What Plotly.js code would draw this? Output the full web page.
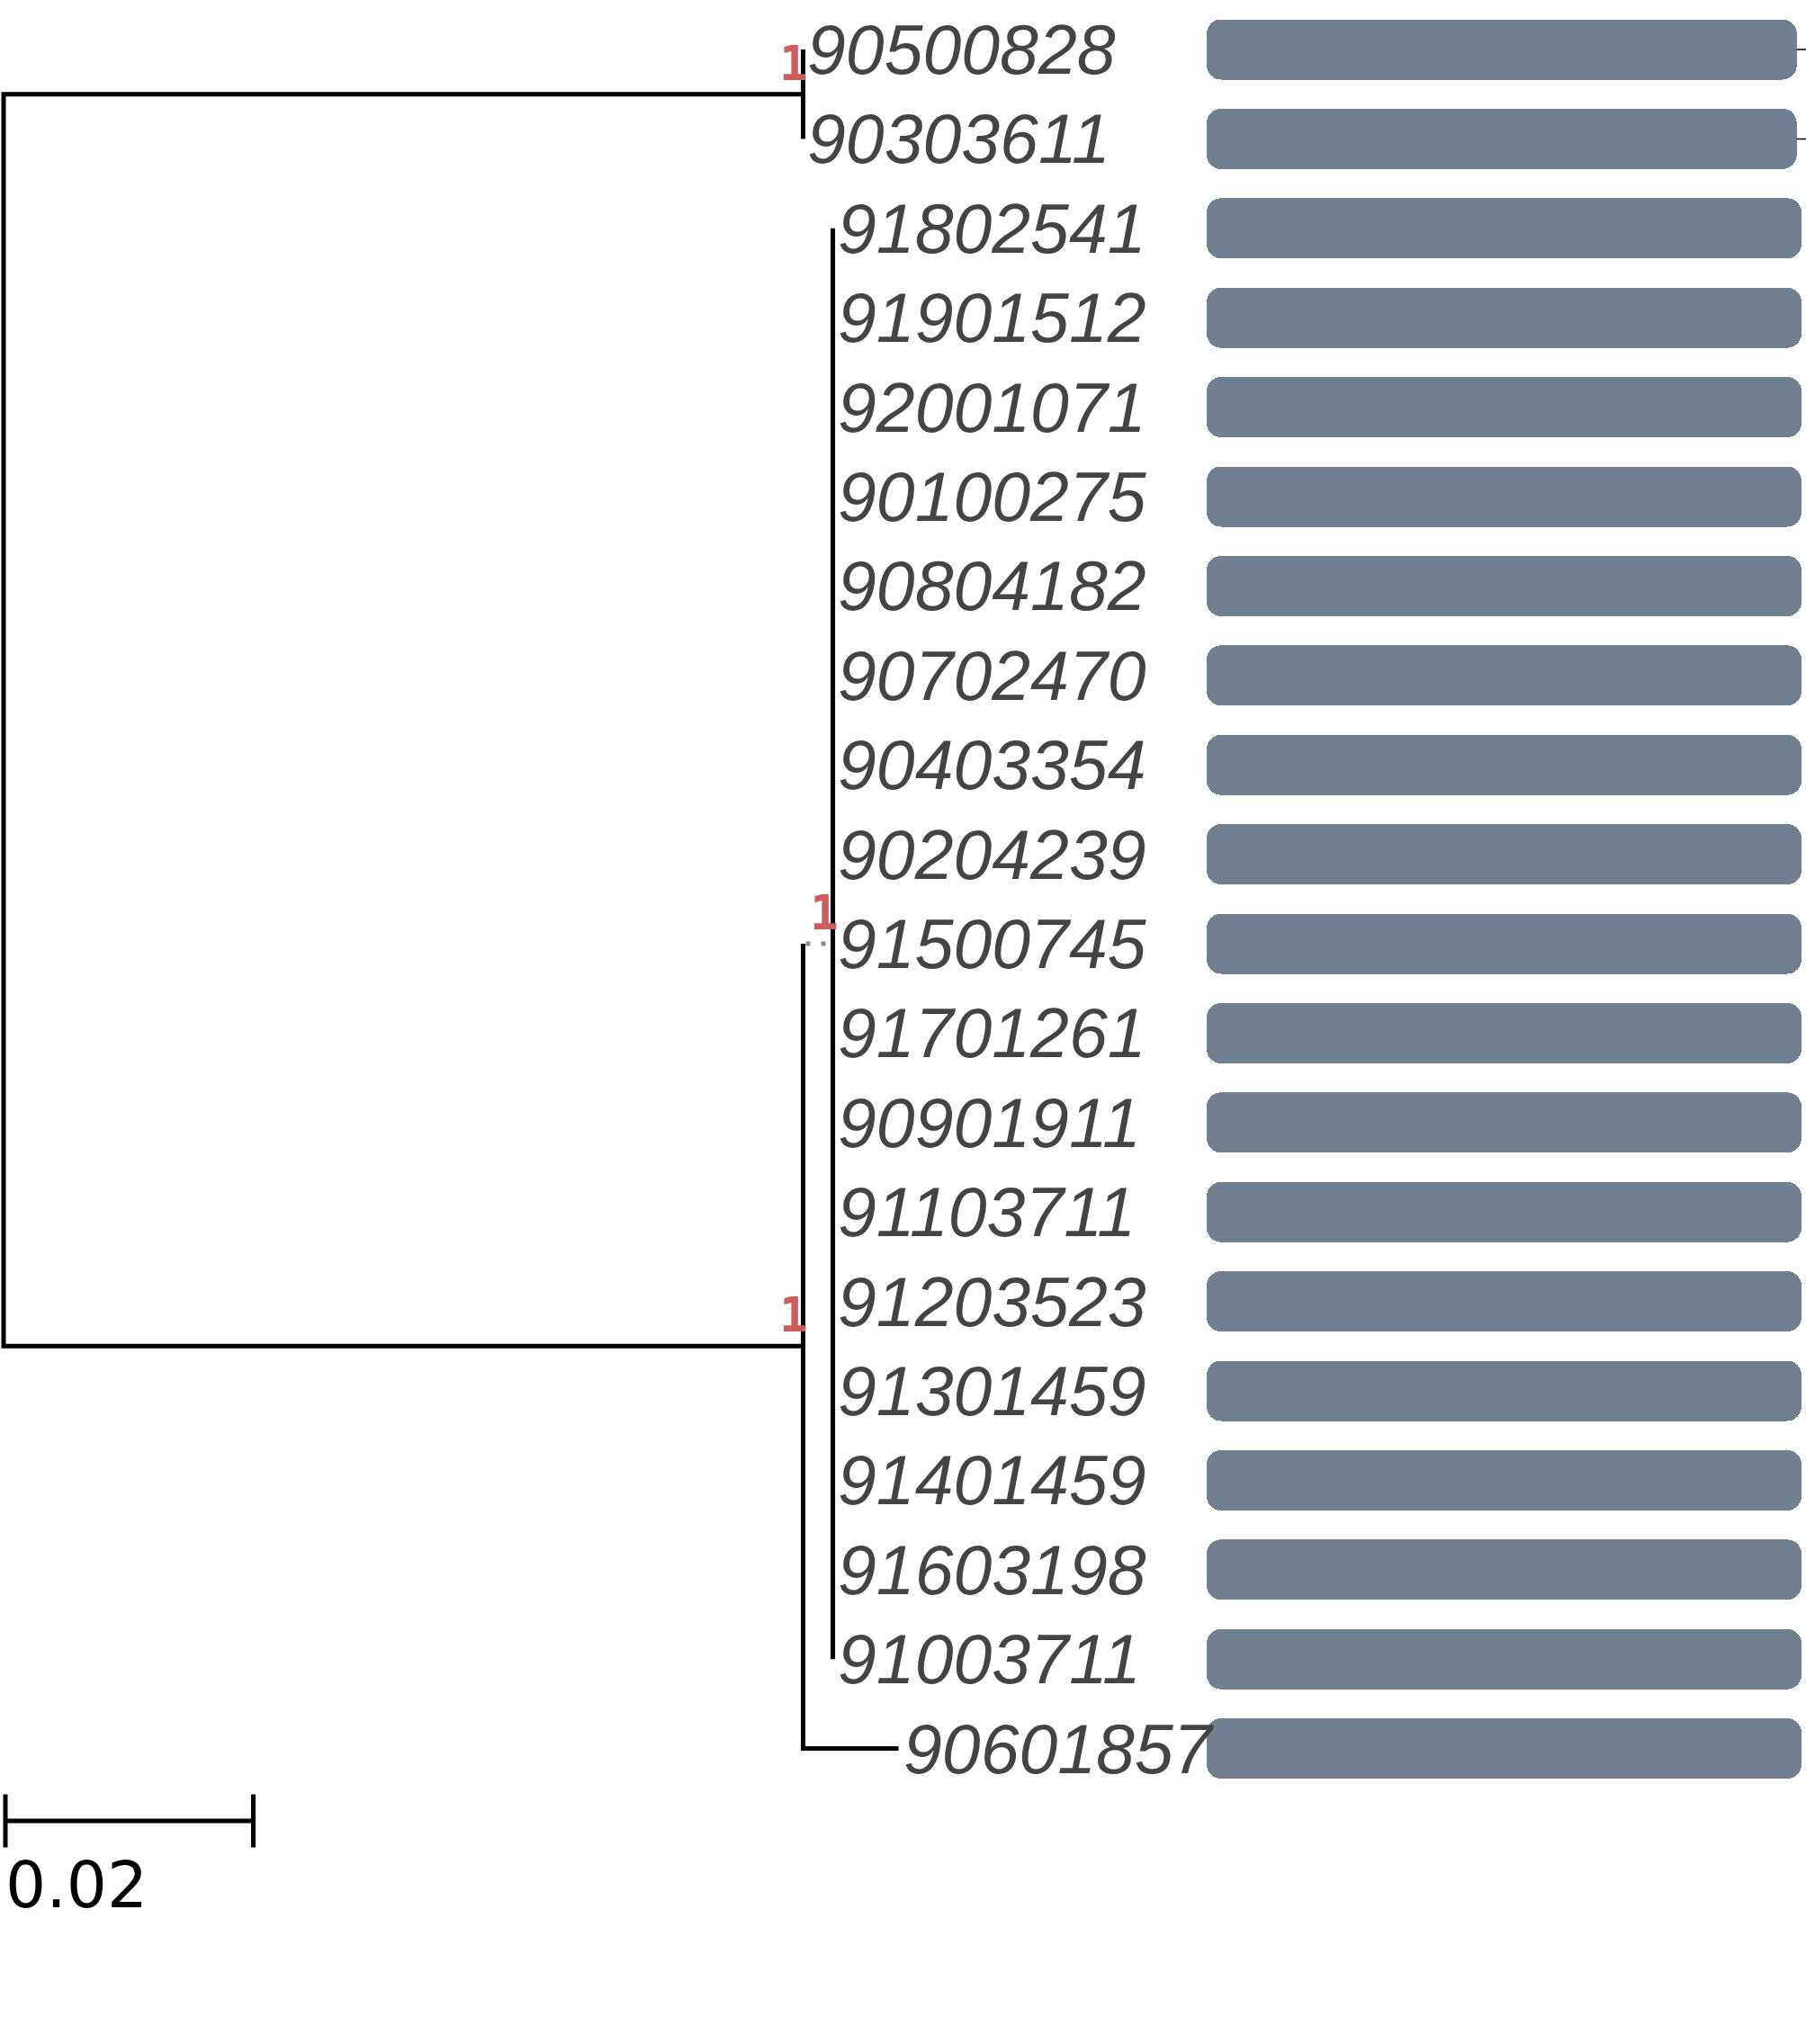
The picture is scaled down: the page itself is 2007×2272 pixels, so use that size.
<!DOCTYPE html>
<html><head><meta charset="utf-8">
<script src="https://cdn.plot.ly/plotly-3.0.1.min.js"></script>
<style>html,body{margin:0;padding:0;background:#fff;} #chart{width:2007px;height:2272px;}</style>
</head><body><div id="chart"></div>
<script>
// ---------- data ----------
const tipLabels = ['90500828','90303611','91802541','91901512','92001071','90100275','90804182',
  '90702470','90403354','90204239','91500745','91701261','90901911','91103711','91203523',
  '91301459','91401459','91603198','91003711','90601857'];
const tipParent = ['cladeTop','cladeTop',
  'cladeBig','cladeBig','cladeBig','cladeBig','cladeBig','cladeBig','cladeBig','cladeBig','cladeBig',
  'cladeBig','cladeBig','cladeBig','cladeBig','cladeBig','cladeBig','cladeBig','cladeBig',
  'cladeBottom'];
const tipBranch = [0,0, 0,0,0,0,0,0,0,0,0,0,0,0,0,0,0,0,0, 0.0077];
const nodeNames   = ['root','cladeTop','cladeBottom','cladeBig'];
const nodeParent  = [null,'root','root','cladeBottom'];
const nodeBranch  = [0,0.0645,0.0645,0.0024];
const nodeSupport = ['','1','1','1'];
const nodeDotted  = [false,false,false,true];
const barValues = [0.992,0.992,1,1,1,1,1,1,1,1,1,1,1,1,1,1,1,1,1,1];
const scaleBarLength = 0.02;
const scaleBarLabel = '0.02';

// ---------- layout constants ----------
const W = 2007, H = 2272;
const PX_PER_UNIT = 13775, X0PX = 4;
const ROW0PX = 55, ROWPX = 99.4;
const BAR0PX = 1341, BARLENPX = 661;
const xRange = [-X0PX/PX_PER_UNIT, (W-X0PX)/PX_PER_UNIT];
const yRange = [(H-ROW0PX)/ROWPX, -ROW0PX/ROWPX];
const x2Range = [-BAR0PX/BARLENPX, (W-BAR0PX)/BARLENPX];
const SCALE_X0 = 2/PX_PER_UNIT;
const SCALE_Y = (2024-ROW0PX)/ROWPX;
const SCALE_LABEL_Y = (2095-ROW0PX)/ROWPX;

// ---------- tree geometry ----------
const nodeIdx = {}; nodeNames.forEach((n,i)=>nodeIdx[n]=i);
const nodeX = nodeNames.map(()=>0);
nodeNames.forEach((n,i)=>{ if(nodeParent[i]) nodeX[i] = nodeX[nodeIdx[nodeParent[i]]] + nodeBranch[i]; });
const tipX = tipLabels.map((t,i)=> nodeX[nodeIdx[tipParent[i]]] + tipBranch[i]);
const tipY = tipLabels.map((t,i)=> i);
const nodeY = nodeNames.map(()=>null);
function childrenOf(name){
  const ch = [];
  tipLabels.forEach((t,i)=>{ if(tipParent[i]===name) ch.push({x:tipX[i], y:()=>tipY[i], dotted:false}); });
  nodeNames.forEach((n,i)=>{ if(nodeParent[i]===name) ch.push({x:nodeX[i], y:()=>getNodeY(i), dotted:nodeDotted[i]}); });
  return ch;
}
function getNodeY(i){
  if(nodeY[i]!==null) return nodeY[i];
  const ys = childrenOf(nodeNames[i]).map(c=>c.y());
  nodeY[i] = (Math.min(...ys)+Math.max(...ys))/2;
  return nodeY[i];
}
nodeNames.forEach((n,i)=>getNodeY(i));

const solidX=[], solidY=[], dotX=[], dotY=[];
nodeNames.forEach((n,i)=>{
  const ch = childrenOf(n).map(c=>({x:c.x, y:c.y(), dotted:c.dotted})).sort((a,b)=>a.y-b.y);
  const first = ch[0], last = ch[ch.length-1];
  const px=[], py=[];
  if(!first.dotted){ px.push(first.x); py.push(first.y); }
  px.push(nodeX[i], nodeX[i]); py.push(first.y, last.y);
  if(!last.dotted){ px.push(last.x); py.push(last.y); }
  solidX.push(...px, null); solidY.push(...py, null);
  ch.forEach((c,k)=>{
    if(c.dotted){ dotX.push(nodeX[i], c.x, null); dotY.push(c.y, c.y, null); }
    else if(k>0 && k<ch.length-1 && c.x>nodeX[i]){ solidX.push(nodeX[i], c.x, null); solidY.push(c.y, c.y, null); }
  });
});

const traces = [];
traces.push({type:'scatter', mode:'lines', x:solidX, y:solidY, line:{color:'#000', width:5}, hoverinfo:'skip'});
traces.push({type:'scatter', mode:'lines', x:dotX, y:dotY, line:{color:'#8c8c8c', width:5, dash:'0px,3px,5px,9px'}, hoverinfo:'skip'});

// scale bar
const tick = 29.5/ROWPX;
const s0 = SCALE_X0, s1 = SCALE_X0 + scaleBarLength;
traces.push({type:'scatter', mode:'lines',
  x:[s0, s1, null, s0, s0, null, s1, s1],
  y:[SCALE_Y, SCALE_Y, null, SCALE_Y-tick, SCALE_Y+tick, null, SCALE_Y-tick, SCALE_Y+tick],
  line:{color:'#000', width:5}, hoverinfo:'skip'});

// bars (rounded both ends via two halves + filler)
const barW = 67/ROWPX, MID = 0.5;
const barCommon = {type:'bar', orientation:'h', xaxis:'x2', yaxis:'y', y:tipY, width:barW, hoverinfo:'skip'};
traces.push(Object.assign({}, barCommon, {base:tipY.map(()=>MID), x:tipY.map(()=>-MID),
  marker:{color:'#708090', opacity:1, line:{width:0}, cornerradius:16}}));
traces.push(Object.assign({}, barCommon, {base:tipY.map(()=>MID), x:barValues.map(v=>v-MID),
  marker:{color:'#708090', opacity:1, line:{width:0}, cornerradius:16}}));
traces.push(Object.assign({}, barCommon, {base:tipY.map(()=>MID-0.2), x:tipY.map(()=>0.4),
  marker:{color:'#708090', opacity:1, line:{width:0}}}));
// thin guide ticks beyond shorter bars
const gx=[], gy=[];
barValues.forEach((v,i)=>{ if(v<1){ gx.push(v, x2Range[1]+0.05, null); gy.push(i,i,null);} });
traces.push({type:'scatter', mode:'lines', xaxis:'x2', yaxis:'y', x:gx, y:gy, line:{color:'#000', width:1.5}, hoverinfo:'skip'});

const annotations = [];
tipLabels.forEach((t,i)=>annotations.push({xref:'x', yref:'y', x:tipX[i], y:tipY[i], text:t, showarrow:false,
  xanchor:'left', yanchor:'middle', xshift:3, yshift:0,
  font:{family:'Liberation Sans, Arial, sans-serif', size:77, color:'#444444', style:'italic'}}));
nodeNames.forEach((n,i)=>{ if(nodeSupport[i]) annotations.push({xref:'x', yref:'y', x:nodeX[i], y:nodeY[i],
  text:nodeSupport[i], showarrow:false, xanchor:'right', yanchor:'bottom', xshift:8, yshift:2,
  font:{family:'DejaVu Sans Mono, monospace', size:53, color:'#cd5c5c', weight:'bold'}}); });
annotations.push({xref:'x', yref:'y', x:SCALE_X0, y:SCALE_LABEL_Y, text:scaleBarLabel, showarrow:false,
  xanchor:'left', yanchor:'middle', xshift:-2,
  font:{family:'DejaVu Sans, sans-serif', size:71, color:'#000'}});

const ax = {visible:false, showgrid:false, zeroline:false, showticklabels:false, fixedrange:true};
const layout = {
  width:W, height:H, margin:{l:0,r:0,t:0,b:0,pad:0},
  paper_bgcolor:'#fff', plot_bgcolor:'#fff', showlegend:false,
  barmode:'overlay', bargap:0, bargroupgap:0,
  xaxis:Object.assign({}, ax, {range:xRange}),
  xaxis2:Object.assign({}, ax, {range:x2Range, overlaying:'x', anchor:'y'}),
  yaxis:Object.assign({}, ax, {range:yRange}),
  annotations:annotations
};
Plotly.newPlot('chart', traces, layout, {staticPlot:true, displayModeBar:false});
</script></body></html>
